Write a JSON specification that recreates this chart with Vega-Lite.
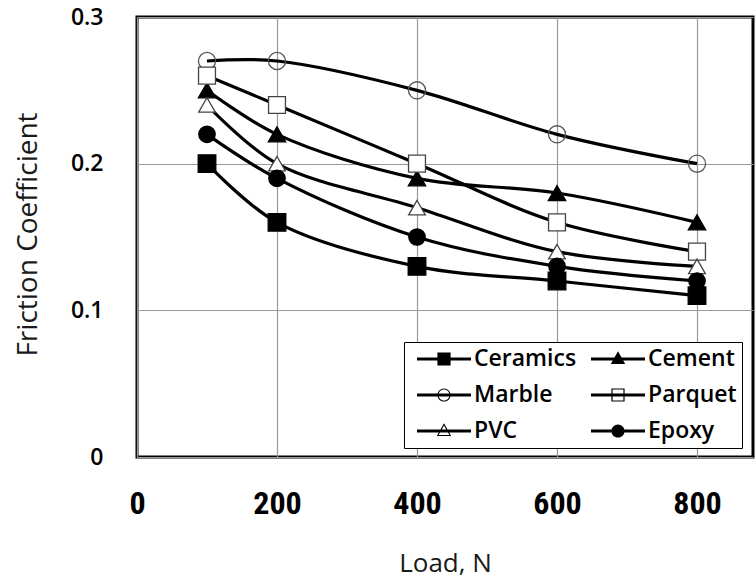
{
  "$schema": "https://vega.github.io/schema/vega-lite/v6.json",
  "width": 616,
  "height": 440,
  "autosize": "none",
  "padding": {"left": 137, "top": 17, "right": 3, "bottom": 121},
  "background": "white",
  "data": {
    "values": [
      {"load": 100, "mu": 0.20, "series": "Ceramics"},
      {"load": 200, "mu": 0.16, "series": "Ceramics"},
      {"load": 400, "mu": 0.13, "series": "Ceramics"},
      {"load": 600, "mu": 0.12, "series": "Ceramics"},
      {"load": 800, "mu": 0.11, "series": "Ceramics"},
      {"load": 100, "mu": 0.25, "series": "Cement"},
      {"load": 200, "mu": 0.22, "series": "Cement"},
      {"load": 400, "mu": 0.19, "series": "Cement"},
      {"load": 600, "mu": 0.18, "series": "Cement"},
      {"load": 800, "mu": 0.16, "series": "Cement"},
      {"load": 100, "mu": 0.27, "series": "Marble"},
      {"load": 200, "mu": 0.27, "series": "Marble"},
      {"load": 400, "mu": 0.25, "series": "Marble"},
      {"load": 600, "mu": 0.22, "series": "Marble"},
      {"load": 800, "mu": 0.20, "series": "Marble"},
      {"load": 100, "mu": 0.26, "series": "Parquet"},
      {"load": 200, "mu": 0.24, "series": "Parquet"},
      {"load": 400, "mu": 0.20, "series": "Parquet"},
      {"load": 600, "mu": 0.16, "series": "Parquet"},
      {"load": 800, "mu": 0.14, "series": "Parquet"},
      {"load": 100, "mu": 0.24, "series": "PVC"},
      {"load": 200, "mu": 0.20, "series": "PVC"},
      {"load": 400, "mu": 0.17, "series": "PVC"},
      {"load": 600, "mu": 0.14, "series": "PVC"},
      {"load": 800, "mu": 0.13, "series": "PVC"},
      {"load": 100, "mu": 0.22, "series": "Epoxy"},
      {"load": 200, "mu": 0.19, "series": "Epoxy"},
      {"load": 400, "mu": 0.15, "series": "Epoxy"},
      {"load": 600, "mu": 0.13, "series": "Epoxy"},
      {"load": 800, "mu": 0.12, "series": "Epoxy"}
    ]
  },
  "encoding": {
    "x": {
      "field": "load",
      "type": "quantitative",
      "scale": {"domain": [0, 880], "nice": false},
      "axis": {
        "title": "Load, N",
        "values": [0, 200, 400, 600, 800],
        "labelFont": "Liberation Sans Narrow, Roboto Condensed, DejaVu Sans Condensed, sans-serif",
        "labelFontWeight": "bold",
        "labelFontSize": 32,
        "labelPadding": 46,
        "labelBaseline": "middle",
        "labelFlush": false,
        "titleFont": "Open Sans",
        "titleFontSize": 26,
        "titleFontWeight": "normal",
        "titleColor": "#1a1a1a",
        "titleBaseline": "middle",
        "titleY": 106
      }
    },
    "y": {
      "field": "mu",
      "type": "quantitative",
      "scale": {"domain": [0, 0.3], "nice": false},
      "axis": {
        "title": "Friction Coefficient",
        "values": [0, 0.1, 0.2, 0.3],
        "format": "~g",
        "labelFont": "Open Sans",
        "labelFontWeight": 600,
        "labelFontSize": 23,
        "labelPadding": 34,
        "labelFlush": false,
        "titleFont": "Open Sans",
        "titleFontSize": 28,
        "titleFontWeight": "normal",
        "titleColor": "#1a1a1a",
        "titleBaseline": "middle",
        "titleX": -109,
        "titleY": 217
      }
    }
  },
  "layer": [
    {
      "mark": {"type": "line", "interpolate": "catmull-rom", "stroke": "black", "strokeWidth": 3.2},
      "encoding": {"detail": {"field": "series"}}
    },
    {
      "mark": {"type": "point", "filled": true, "strokeWidth": 1.3, "opacity": 1},
      "encoding": {
        "shape": {
          "field": "series",
          "scale": {
            "domain": ["Ceramics", "Cement", "Marble", "Parquet", "PVC", "Epoxy"],
            "range": ["square", "triangle-up", "circle", "square", "triangle-up", "circle"]
          },
          "legend": null
        },
        "fill": {
          "field": "series",
          "scale": {
            "domain": ["Ceramics", "Cement", "Marble", "Parquet", "PVC", "Epoxy"],
            "range": ["black", "black", "transparent", "white", "white", "black"]
          },
          "legend": null
        },
        "stroke": {
          "field": "series",
          "scale": {
            "domain": ["Ceramics", "Cement", "Marble", "Parquet", "PVC", "Epoxy"],
            "range": ["black", "black", "#555", "#444", "#444", "black"]
          },
          "legend": null
        },
        "size": {
          "field": "series",
          "scale": {
            "domain": ["Ceramics", "Cement", "Marble", "Parquet", "PVC", "Epoxy"],
            "range": [310, 270, 290, 270, 240, 290]
          },
          "legend": null
        }
      }
    },
    {
      "mark": {"type": "point", "filled": true, "size": 0, "fill": "black", "opacity": 1},
      "encoding": {
        "shape": {
          "field": "series",
          "title": null,
          "scale": {
            "domain": ["Ceramics", "Cement", "Marble", "Parquet", "PVC", "Epoxy"],
            "range": [
              "M-2.25,-0.12H2.25V0.12H-2.25ZM-0.55,-0.55H0.55V0.55H-0.55Z",
              "M-2.25,-0.12H2.25V0.12H-2.25ZM0,-0.65L0.6,0.42H-0.6Z",
              "M-2.25,-0.12H2.25V0.12H-2.25ZM0.55,0A0.55,0.55,0,1,1,-0.55,0A0.55,0.55,0,1,1,0.55,0ZM0.46,0A0.46,0.46,0,1,0,-0.46,0A0.46,0.46,0,1,0,0.46,0Z",
              "M-2.25,-0.12H2.25V0.12H-2.25ZM-0.55,-0.55H0.55V0.55H-0.55ZM-0.45,-0.45V0.45H0.45V-0.45Z",
              "M-2.25,-0.12H2.25V0.12H-2.25ZM0,-0.65L0.6,0.42H-0.6ZM0,-0.46L-0.45,0.33H0.45Z",
              "M-2.25,-0.12H2.25V0.12H-2.25ZM0.55,0A0.55,0.55,0,1,1,-0.55,0A0.55,0.55,0,1,1,0.55,0Z"
            ]
          },
          "legend": {
            "orient": "none",
            "legendX": 267,
            "legendY": 325,
            "columns": 2,
            "direction": "horizontal",
            "symbolSize": 576,
            "symbolOffset": 23,
            "labelOffset": 18,
            "symbolFillColor": "black",
            "symbolStrokeWidth": 0,
            "symbolOpacity": 1,
            "labelFont": "Open Sans",
            "labelFontSize": 23,
            "labelFontWeight": 600,
            "labelColor": "black",
            "labelLimit": 200,
            "columnPadding": 6,
            "rowPadding": 12,
            "padding": 5,
            "strokeColor": "black",
            "fillColor": "white",
            "encode": {
              "legend": {
                "update": {
                  "strokeWidth": {"value": 3}
                }
              }
            }
          }
        }
      }
    }
  ],
  "resolve": {"scale": {"shape": "independent"}},
  "config": {
    "view": {"stroke": "black", "strokeWidth": 3},
    "axis": {
      "grid": true,
      "gridColor": "#999",
      "gridWidth": 1.2,
      "domain": false,
      "ticks": false,
      "labelColor": "black"
    }
  }
}
